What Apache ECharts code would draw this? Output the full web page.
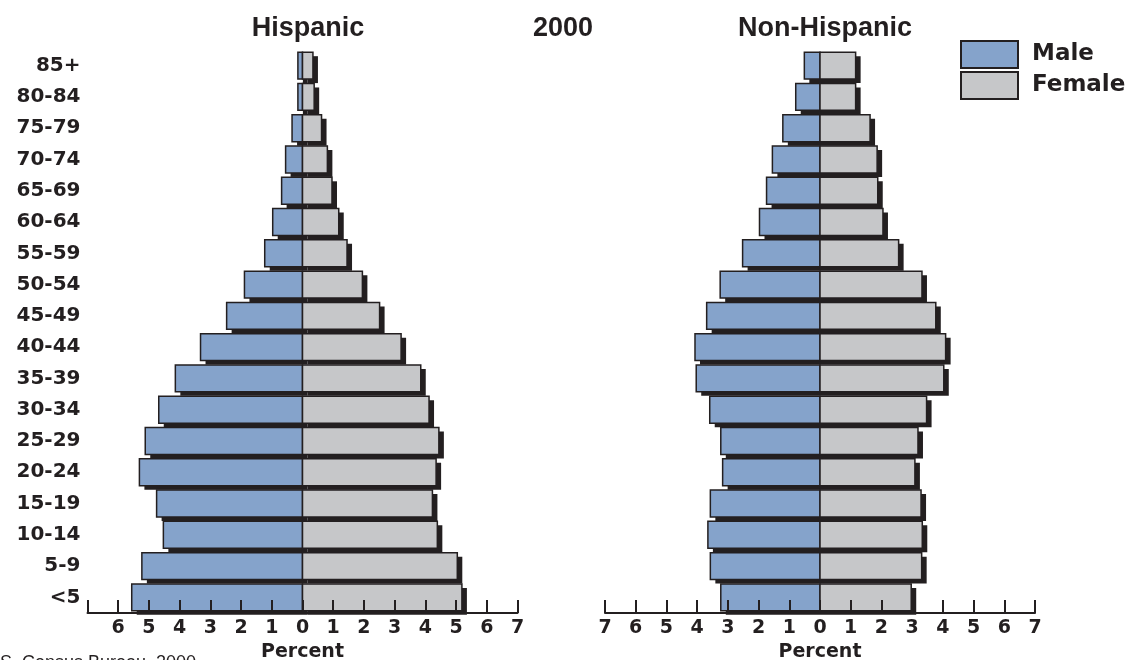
<!DOCTYPE html>
<html><head><meta charset="utf-8">
<script src="https://cdn.jsdelivr.net/npm/echarts@6/dist/echarts.min.js"></script>
<style>html,body{margin:0;padding:0;background:#fff}#c{width:1125px;height:660px}</style>
</head><body><div id="c"></div>
<script>
var ageGroups = ['<5','5-9','10-14','15-19','20-24','25-29','30-34','35-39','40-44','45-49','50-54','55-59','60-64','65-69','70-74','75-79','80-84','85+'];
var hispMale   = [5.56,5.23,4.53,4.75,5.31,5.12,4.68,4.14,3.32,2.47,1.89,1.23,0.97,0.68,0.55,0.34,0.15,0.15];
var hispFemale = [5.19,5.04,4.39,4.23,4.35,4.44,4.12,3.85,3.21,2.51,1.95,1.45,1.18,0.96,0.81,0.62,0.38,0.34];
var nonHispMale   = [3.23,3.57,3.65,3.57,3.17,3.23,3.59,4.03,4.07,3.69,3.25,2.52,1.97,1.74,1.55,1.21,0.79,0.51];
var nonHispFemale = [2.97,3.31,3.33,3.29,3.09,3.19,3.47,4.03,4.09,3.77,3.32,2.56,2.05,1.88,1.86,1.63,1.16,1.16];
var panelTitles = ['Hispanic','2000','Non-Hispanic'];
var axisName = 'Percent';
var sourceNote = 'U.S. Census Bureau, 2000';

var DARK = '#231f20', BLUE = '#85a3cb', GRAY = '#c6c7c9';
function toData(arr, sign){ return arr.map(function(v, i){ return [sign * v, i]; }); }
function renderBar(color){
  return function(params, api){
    var v = api.value(0), c = api.value(1);
    var p0 = api.coord([0, c]), p1 = api.coord([v, c]);
    var h = api.size([0, 1])[1] * 0.86;
    var x = Math.min(p0[0], p1[0]), w = Math.abs(p1[0] - p0[0]);
    var y = p0[1] - h / 2;
    return {type: 'group', children: [
      {type: 'rect', shape: {x: x + 5, y: y + 4, width: w, height: h}, style: {fill: DARK}},
      {type: 'rect', shape: {x: x, y: y, width: w, height: h}, style: {fill: color, stroke: DARK, lineWidth: 1.5}}
    ]};
  };
}
function barSeries(name, idx, arr, sign, color){
  return {name: name, type: 'custom', xAxisIndex: idx, yAxisIndex: idx, data: toData(arr, sign),
    encode: {x: 0, y: 1}, itemStyle: {color: color}, renderItem: renderBar(color)};
}
var xAx = function(idx, hideEnd){
  return {gridIndex: idx, type: 'value', min: -7, max: 7, interval: 1, z: 10,
    name: axisName, nameLocation: 'middle', nameGap: 29,
    nameTextStyle: {fontFamily: 'DejaVu Sans', fontWeight: 'bold', fontSize: 19, color: DARK},
    axisLine: {show: true, onZero: false, lineStyle: {color: DARK, width: 2}},
    axisTick: {show: true, inside: true, length: 13, lineStyle: {color: DARK, width: 2}},
    splitLine: {show: false},
    axisLabel: {margin: 6, fontFamily: 'DejaVu Sans', fontWeight: 'bold', fontSize: 19, color: DARK,
      formatter: function(v){ if (hideEnd && v === -7) return ''; return String(Math.abs(v)); }}
  };
};
var yAx = function(idx, show){
  return {gridIndex: idx, type: 'category', data: ageGroups,
    axisLine: {show: false}, axisTick: {show: false}, splitLine: {show: false},
    axisLabel: {show: show, margin: 7, fontFamily: 'DejaVu Sans', fontWeight: 'bold', fontSize: 20, color: DARK, padding: [0,0,4,0]}};
};
var titleStyle = {fontFamily: 'Liberation Sans', fontWeight: 'bold', fontSize: 27, color: DARK};
var chart = echarts.init(document.getElementById('c'));
chart.setOption({
  animation: false,
  title: [
    {text: panelTitles[0], left: 303, top: 10, textAlign: 'center', textStyle: titleStyle},
    {text: panelTitles[1], left: 558, top: 10, textAlign: 'center', textStyle: titleStyle},
    {text: panelTitles[2], left: 820, top: 10, textAlign: 'center', textStyle: titleStyle}
  ],
  legend: {data: ['Male','Female'], orient: 'vertical', left: 955, top: 35, itemWidth: 57, itemHeight: 27, itemGap: 2,
    icon: 'rect',
    itemStyle: {borderColor: DARK, borderWidth: 2},
    textStyle: {fontFamily: 'DejaVu Sans', fontWeight: 'bold', fontSize: 23, color: DARK, padding: [0,0,0,9]}},
  grid: [
    {left: 87.5, width: 430, top: 50, height: 563, outerBoundsMode: 'none', containLabel: false},
    {left: 605, width: 430, top: 50, height: 563, outerBoundsMode: 'none', containLabel: false}
  ],
  xAxis: [xAx(0, true), xAx(1, false)],
  yAxis: [yAx(0, true), yAx(1, false)],
  graphic: [{type: 'text', left: -18, top: 654, style: {text: sourceNote, font: '18px "Liberation Sans"', fill: DARK}}],
  series: [
    barSeries('Male', 0, hispMale, -1, BLUE),
    barSeries('Female', 0, hispFemale, 1, GRAY),
    barSeries('Male', 1, nonHispMale, -1, BLUE),
    barSeries('Female', 1, nonHispFemale, 1, GRAY)
  ]
});
</script></body></html>
